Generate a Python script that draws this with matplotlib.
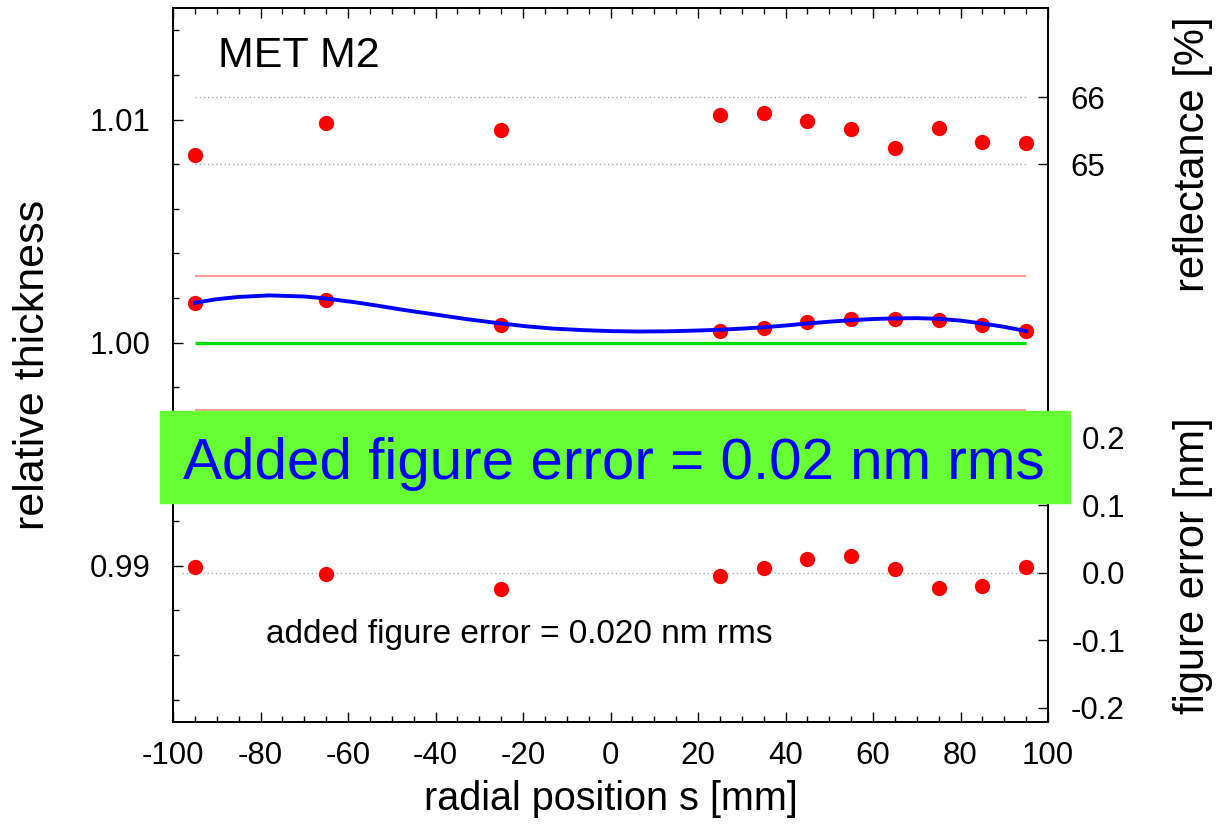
import numpy as np
import matplotlib
matplotlib.use('Agg')
from matplotlib import pyplot as plt
from matplotlib.patches import Rectangle
from matplotlib.ticker import MultipleLocator, FixedLocator

plt.rcParams['font.family'] = ['Liberation Sans', 'DejaVu Sans']
plt.rcParams['axes.unicode_minus'] = False

# measurement positions and values
pos = [-95, -65, -25, 25, 35, 45, 55, 65, 75, 85, 95]
thickness = [1.00178, 1.00192, 1.00081, 1.00051, 1.00066, 1.00091, 1.00106, 1.00106, 1.00100, 1.00081, 1.00051]
reflectance = [65.14, 65.62, 65.51, 65.74, 65.77, 65.65, 65.53, 65.25, 65.54, 65.33, 65.32]
fig_error = [0.009, -0.002, -0.024, -0.005, 0.007, 0.020, 0.024, 0.005, -0.023, -0.020, 0.009]

# fitted thickness curve
fit_s = [-95, -90, -85, -78, -70, -65, -58, -53, -47, -40, -33, -25, -19, -13, -6, 0, 6, 13,
         19, 25, 30, 35, 40, 45, 50, 55, 60, 65, 70, 75, 80, 85, 90, 95]
fit_t = [1.00179, 1.00195, 1.00205, 1.00212, 1.00207, 1.00198, 1.00180, 1.00165, 1.00146, 1.00126,
         1.00106, 1.00086, 1.00073, 1.00063, 1.00056, 1.00052, 1.00050, 1.00051,
         1.00054, 1.00058, 1.00063, 1.00069, 1.00077, 1.00086, 1.00094, 1.00101, 1.00106, 1.00109,
         1.00110, 1.00107, 1.00099, 1.00086, 1.00071, 1.00052]

target = 1.000
tolerance = 0.003
refl_grid = [65, 66]
xticks = list(range(-100, 101, 20))
yticks = [0.99, 1.00, 1.01]
ylabels_left = ['0.99', '1.00', '1.01']
ferr_ticks = [-0.2, -0.1, 0.0, 0.1, 0.2]

fig = plt.figure(figsize=(12.31, 8.30), dpi=100)
ax = fig.add_axes([173/1231, 1-722/830, 875/1231, 714/830])

ax.hlines([target + tolerance, target - tolerance], -95, 95, color='#ff9a9a', lw=1.5, zorder=2)
ax.hlines(target, -95, 95, color='#00e000', lw=2.4, zorder=2)
ax.plot(pos, thickness, 'o', color='red', ms=11, mec='none', zorder=3)
ax.plot(fit_s, fit_t, '-', color='#0000ff', lw=2.8, zorder=4, solid_joinstyle='round')

ax.set_xlim(-100, 100)
ax.set_ylim(0.983, 1.015)
ax.set_xticks(xticks)
ax.xaxis.set_minor_locator(MultipleLocator(5))
ax.yaxis.set_major_locator(FixedLocator(yticks))
ax.set_yticklabels(ylabels_left)
ax.yaxis.set_minor_locator(MultipleLocator(0.002))
ax.tick_params(which='both', direction='in', top=True, right=False, labelsize=22.5, width=1)
ax.tick_params(axis='x', which='major', length=7, pad=14)
ax.tick_params(axis='y', which='major', length=7, pad=16)
ax.tick_params(which='minor', length=4)
ax.set_xlabel('radial position s [mm]', fontsize=28.5, labelpad=6)
ax.set_ylabel('relative thickness', fontsize=31, va='center')
ax.yaxis.set_label_coords(-0.16, 0.5)
ax.text(0.0514, 0.917, 'MET M2', transform=ax.transAxes, fontsize=31, va='baseline')
ax.text(0.3954, 0.1106, 'added figure error = 0.020 nm rms', transform=ax.transAxes,
        fontsize=24, ha='center', va='baseline')

# reflectance axis
ax_r = ax.twinx()
ax_r.set_ylim(56.676, 67.333)
ax_r.hlines(refl_grid, -95, 95, color='#aaaaaa', lw=1, linestyles=(0, (1, 2)), zorder=1)
ax_r.plot(pos, reflectance, 'o', color='red', ms=11, mec='none', zorder=3)
ax_r.set_yticks(refl_grid)
ax_r.set_yticklabels([str(v) for v in refl_grid])
ax_r.tick_params(direction='in', length=7.5, pad=16, labelsize=22.5, width=1)
ax_r.set_ylabel('reflectance [%]', fontsize=30, rotation=90, va='center', ha='center')
ax_r.yaxis.set_label_coords(1.1657, 0.795)

# figure error axis
ax_f = ax.twinx()
ax_f.set_ylim(-0.2209, 0.8354)
ax_f.axhline(0.0, xmin=0.01, xmax=0.99, color='#aaaaaa', lw=1, ls=(0, (1, 2)), zorder=1)
ax_f.plot(pos, fig_error, 'o', color='red', ms=11, mec='none', zorder=3)
ax_f.set_yticks(ferr_ticks)
ax_f.set_yticklabels(['%.1f' % v for v in ferr_ticks])
ax_f.tick_params(direction='in', length=7, pad=55.5, labelsize=22.5, width=1)
for lab in ax_f.get_yticklabels():
    lab.set_ha('right')
ax_f.set_ylabel('figure error [nm]', fontsize=30, rotation=90, va='center', ha='center')
ax_f.yaxis.set_label_coords(1.1657, 0.2185)

for a in [ax, ax_r, ax_f]:
    for sp in a.spines.values():
        sp.set_linewidth(1.3)

# green banner on top
fig.patches.append(Rectangle((160/1231, 1-503/830), 910/1231, 92/830,
                             transform=fig.transFigure, color='#66ff33', zorder=5))
fig.text(614/1231, 1-479/830, 'Added figure error = 0.02 nm rms', color='#0000ff',
         fontsize=42, ha='center', va='baseline', zorder=6)

fig.savefig('out.png', dpi=100)
